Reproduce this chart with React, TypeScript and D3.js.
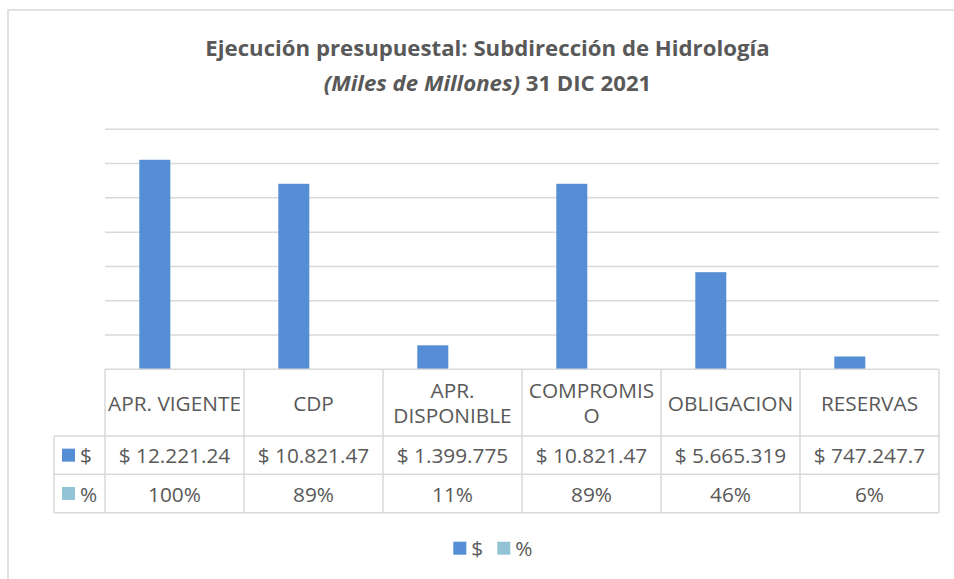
import React from "react";
import * as d3 from "d3";

const categories = ["APR. VIGENTE", "CDP", "APR. DISPONIBLE", "COMPROMISO", "OBLIGACION", "RESERVAS"];
const headerLines = [["APR. VIGENTE"], ["CDP"], ["APR.", "DISPONIBLE"], ["COMPROMIS", "O"], ["OBLIGACION"], ["RESERVAS"]];
const series = ["$", "%"];
const moneyValues = [12221.24, 10821.47, 1399.775, 10821.47, 5665.319, 747.2477];
const moneyLabels = ["$ 12.221.24", "$ 10.821.47", "$ 1.399.775", "$ 10.821.47", "$ 5.665.319", "$ 747.247.7"];
const pctValues = [1.0, 0.89, 0.11, 0.89, 0.46, 0.06];
const pctLabels = ["100%", "89%", "11%", "89%", "46%", "6%"];
const yTicks = [0, 2000, 4000, 6000, 8000, 10000, 12000, 14000];

const W = 954, H = 579;
const plotL = 105, plotR = 939, plotTop = 129.3, plotBottom = 369.3;
const row1 = 436, row2 = 474.3, row3 = 512.7, legL = 54;
const blue = "#558ED5", teal = "#93C4D6", grid = "#D9D9D9", txt = "#595959";
const font = "'Open Sans', Lato, sans-serif";

export default function App() {
  const x0 = d3.scaleBand<string>().domain(categories).range([plotL, plotR]).paddingInner(0).paddingOuter(0);
  const x1 = d3.scaleBand<string>().domain(series).range([0, x0.bandwidth()]).paddingInner(0.213).paddingOuter(0.87);
  const y = d3.scaleLinear().domain([0, 14000]).range([plotBottom, plotTop]);
  const seriesData = [moneyValues, pctValues];
  const colors = [blue, teal];
  const fs = 20.8;

  return (
    <svg width={W} height={H} style={{ position: "absolute", left: 0, top: 0, background: "#fff" }}>
      <rect x={8} y={10} width={W + 10} height={H + 10} fill="#fff" stroke={grid} strokeWidth={1.5} />
      <text x={487.5} y={56} textAnchor="middle" fontFamily={font} fontWeight="bold" fontSize={22.2} fill={txt}>
        Ejecución presupuestal: Subdirección de Hidrología
      </text>
      <text x={487.5} y={91} textAnchor="middle" fontFamily={font} fontWeight="bold" fontSize={22.2} fill={txt}>
        <tspan fontStyle="italic">(Miles de Millones)</tspan> 31 DIC 2021
      </text>
      {yTicks.slice(1).map((t) => (
        <line key={t} x1={plotL} x2={plotR} y1={y(t)} y2={y(t)} stroke={grid} strokeWidth={1.5} />
      ))}
      {seriesData.map((vals, si) =>
        vals.map((v, i) => (
          <rect key={si + "-" + i} x={x0(categories[i])! + x1(series[si])!} y={y(v)} width={x1.bandwidth()} height={plotBottom - y(v)} fill={colors[si]} />
        ))
      )}
      {/* table */}
      <g stroke={grid} strokeWidth={1.5}>
        <line x1={plotL} x2={plotR} y1={plotBottom} y2={plotBottom} />
        {[row1, row2, row3].map((r) => (
          <line key={r} x1={legL} x2={plotR} y1={r} y2={r} />
        ))}
        <line x1={legL} x2={legL} y1={row1} y2={row3} />
        {categories.map((c) => (
          <line key={c} x1={x0(c)!} x2={x0(c)!} y1={plotBottom} y2={row3} />
        ))}
        <line x1={plotR} x2={plotR} y1={plotBottom} y2={row3} />
      </g>
      {categories.map((c, i) => {
        const cx = x0(c)! + x0.bandwidth() / 2;
        const lines = headerLines[i];
        const mid = (plotBottom + row1) / 2;
        const lh = 25.6;
        return (
          <g key={c} fontFamily={font} fontSize={fs} fill={txt} textAnchor="middle">
            {lines.map((l, k) => (
              <text key={k} x={cx} y={mid + (k - (lines.length - 1) / 2) * lh} dominantBaseline="central">{l}</text>
            ))}
            <text x={cx} y={(row1 + row2) / 2} dominantBaseline="central">{moneyLabels[i]}</text>
            <text x={cx} y={(row2 + row3) / 2} dominantBaseline="central">{pctLabels[i]}</text>
          </g>
        );
      })}
      {series.map((s, si) => {
        const cy = si === 0 ? (row1 + row2) / 2 : (row2 + row3) / 2;
        return (
          <g key={s}>
            <rect x={62} y={cy - 6.5} width={13} height={13} fill={colors[si]} />
            <text x={80} y={cy} dominantBaseline="central" fontFamily={font} fontSize={fs} fill={txt}>{s}</text>
          </g>
        );
      })}
      {/* bottom legend */}
      {series.map((s, si) => {
        const lx = si === 0 ? 453.3 : 497.3;
        return (
          <g key={"lg" + s}>
            <rect x={lx} y={541.7} width={13} height={13} fill={colors[si]} />
            <text x={lx + 18} y={548.2} dominantBaseline="central" fontFamily={font} fontSize={fs} fill={txt}>{s}</text>
          </g>
        );
      })}
    </svg>
  );
}
